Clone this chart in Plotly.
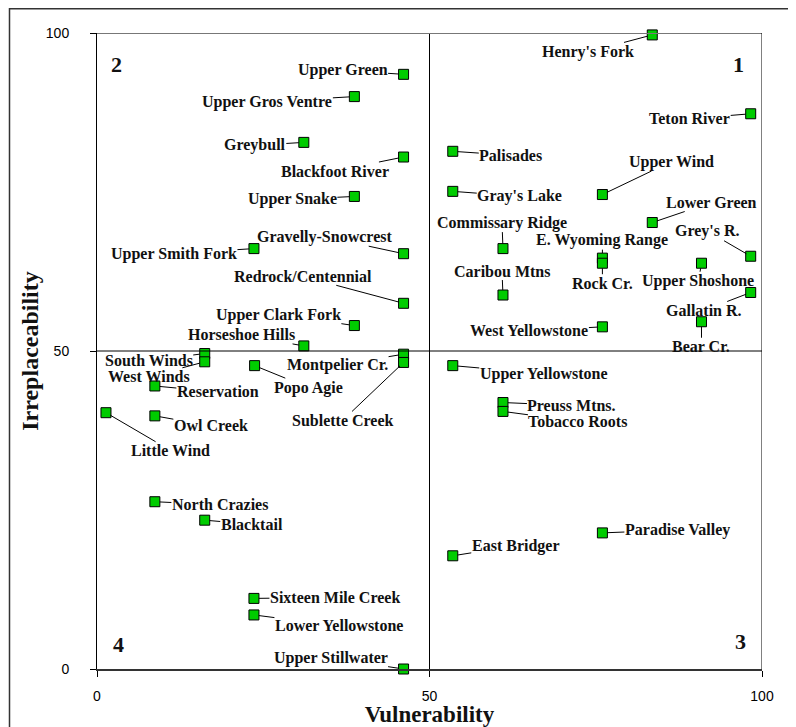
import plotly.graph_objects as go

names = ["Upper Green", "Upper Gros Ventre", "Greybull", "Blackfoot River", "Upper Snake",
         "Upper Smith Fork", "Gravelly-Snowcrest", "Redrock/Centennial", "Upper Clark Fork",
         "Horseshoe Hills", "South Winds", "West Winds", "Montpelier Cr.", "Sublette Creek",
         "Popo Agie", "Reservation", "Owl Creek", "Little Wind", "North Crazies", "Blacktail",
         "Sixteen Mile Creek", "Lower Yellowstone", "Upper Stillwater",
         "Henry's Fork", "Teton River", "Palisades", "Upper Wind", "Gray's Lake", "Lower Green",
         "Commissary Ridge", "Grey's R.", "E. Wyoming Range", "Rock Cr.", "Upper Shoshone",
         "Caribou Mtns", "Gallatin R.", "West Yellowstone", "Bear Cr.", "Upper Yellowstone",
         "Preuss Mtns.", "Tobacco Roots", "East Bridger", "Paradise Valley"]

vulnerability = [46.1, 38.7, 31.1, 46.1, 38.7,
                 23.6, 46.1, 46.1, 38.7,
                 31.1, 16.2, 16.2, 46.1, 46.1,
                 23.7, 8.7, 8.7, 1.35, 8.7, 16.2,
                 23.6, 23.6, 46.1,
                 83.5, 98.3, 53.5, 76.0, 53.5, 83.5,
                 61.05, 98.3, 76.0, 76.0, 90.9,
                 61.05, 98.3, 76.0, 90.9, 53.5,
                 61.05, 61.05, 53.5, 76.0]

irreplaceability = [93.5, 90.0, 82.8, 80.5, 74.3,
                    66.1, 65.3, 57.5, 54.0,
                    50.8, 49.6, 48.3, 49.5, 48.2,
                    47.7, 44.5, 39.8, 40.3, 26.3, 23.4,
                    11.1, 8.5, 0.0,
                    99.7, 87.3, 81.4, 74.6, 75.1, 70.2,
                    66.1, 64.9, 64.6, 63.8, 63.8,
                    58.8, 59.2, 53.8, 54.6, 47.7,
                    41.9, 40.5, 17.8, 21.4]

# label offsets in pixels (text centre relative to point)
label_dx = [-61, -87, -49, -69, -62,
            -80, -79, -101, -76,
            -62, -56, -56, -66, -61,
            54, 63, 56, 65, 65, 47,
            81, 85, -73,
            -64, -61, 58, 69, 67, 59,
            -1, -43, 0, 0, -3,
            -1, -47, -73, 0, 91,
            69, 75, 63, 75]
label_dy = [-4, 5, 3, 14, 3,
            5, -17, -27, -11,
            -11, 7, 15, 11, 58,
            22, 6, 10, 38, 3, 4,
            -1, 11, -11,
            17, 5, 4, -33, 5, -20,
            -26, -25, -18, 20, 18,
            -24, 18, 4, 25, 8,
            3, 10, -10, -3]

quad_labels = ["1", "2", "3", "4"]
quad_x = [96.5, 3.0, 96.8, 3.3]
quad_y = [95.0, 95.0, 4.3, 3.8]

x_ticks = [0, 50, 100]
y_ticks = [0, 50, 100]

# page offset of the figure inside the HTML body
OFF = 8
W, H = 796 - OFF, 727 - OFF
L, R, T, B = 97 - OFF, W - (762 - OFF), 33 - OFF, H - (669 - OFF)
PW, PH = W - L - R, H - T - B

fig = go.Figure()
fig.add_trace(go.Scatter(
    x=vulnerability, y=irreplaceability, mode="markers",
    marker=dict(symbol="square", size=10, color="#00CC00",
                line=dict(color="black", width=1)),
    cliponaxis=False, hoverinfo="text", text=names, showlegend=False))

label_font = dict(family="Liberation Serif", size=16, color="#111111")
annotations = []
for n, xv, yv, dx, dy in zip(names, vulnerability, irreplaceability, label_dx, label_dy):
    annotations.append(dict(
        x=xv, y=yv, xref="x", yref="y", text="<b>%s</b>" % n,
        showarrow=True, arrowhead=0, arrowwidth=1, arrowcolor="black",
        ax=dx, ay=dy, axref="pixel", ayref="pixel", standoff=5,
        font=label_font, borderpad=0))
for t, xv, yv in zip(quad_labels, quad_x, quad_y):
    annotations.append(dict(
        x=xv, y=yv, xref="x", yref="y", text="<b>%s</b>" % t, showarrow=False,
        font=dict(family="Liberation Serif", size=22, color="#111111")))

shapes = [
    dict(type="line", xref="x", yref="y", x0=50, x1=50, y0=0, y1=100,
         line=dict(color="black", width=1)),
    dict(type="line", xref="x", yref="y", x0=0, x1=100, y0=50, y1=50,
         line=dict(color="black", width=1)),
    dict(type="line", xref="x", yref="y", x0=0, x1=100, y0=100, y1=100,
         line=dict(color="#777777", width=2)),
    dict(type="line", xref="x", yref="y", x0=100, x1=100, y0=0, y1=100,
         line=dict(color="black", width=1)),
    # outer frame (top and left edges visible)
    dict(type="rect", xref="paper", yref="paper",
         x0=(1.5 - L) / PW, x1=(W + 20 - L) / PW,
         y0=-(B + 20) / PH, y1=(PH + T - 0.8) / PH,
         line=dict(color="#333333", width=1.5), layer="below"),
]

fig.update_layout(
    width=W, height=H,
    margin=dict(l=L, r=R, t=T, b=B, autoexpand=False),
    paper_bgcolor="white", plot_bgcolor="white",
    annotations=annotations, shapes=shapes,
    xaxis=dict(range=[0, 100], tickvals=x_ticks, showgrid=False, zeroline=False,
               showline=True, linecolor="#333333", linewidth=1.5,
               ticks="outside", ticklen=6, tickcolor="black",
               tickfont=dict(family="Liberation Sans", size=14, color="black"),
               ticklabelstandoff=7, automargin=False,
               title=dict(text="<b>Vulnerability</b>", standoff=0,
                          font=dict(family="Liberation Serif", size=23, color="#111111"))),
    yaxis=dict(range=[0, 100], tickvals=y_ticks, showgrid=False, zeroline=False,
               showline=True, linecolor="black", linewidth=1,
               ticks="outside", ticklen=6, tickcolor="black",
               tickfont=dict(family="Liberation Sans", size=14, color="black"),
               ticklabelstandoff=18, automargin=False,
               title=dict(text="<b>Irreplaceability</b>", standoff=0,
                          font=dict(family="Liberation Serif", size=24, color="#111111"))),
)

fig.write_html("out.html")
